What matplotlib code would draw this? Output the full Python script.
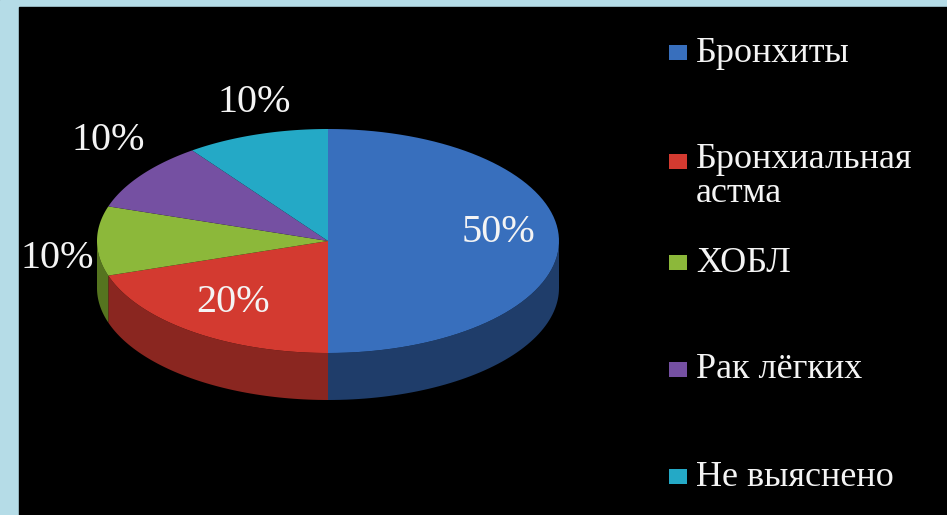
import numpy as np
import matplotlib
matplotlib.use('Agg')
import matplotlib.pyplot as plt
from matplotlib.patches import Polygon, Rectangle

plt.rcParams['font.family'] = 'serif'
plt.rcParams['font.serif'] = ['Liberation Serif', 'DejaVu Serif']

# данные диаграммы
labels = ['Бронхиты', 'Бронхиальная\nастма', 'ХОБЛ', 'Рак лёгких', 'Не выяснено']
values = [50, 20, 10, 10, 10]
pct_labels = ['50%', '20%', '10%', '10%', '10%']

top_colors = ['#386fbd', '#d33a30', '#8cb83a', '#7550a2', '#24a9c6']
side_colors = ['#1f3d6a', '#8a2620', '#55741f', '#4a3068', '#186b80']

W, H = 947, 515
fig = plt.figure(figsize=(W / 100, H / 100), dpi=100)
ax = fig.add_axes([0, 0, 1, 1])
ax.set_xlim(0, W)
ax.set_ylim(H, 0)
ax.axis('off')

# фон: голубая рамка слева и сверху, чёрное поле
ax.add_patch(Rectangle((0, 0), W, H, color='#b5dce7', zorder=0))
ax.add_patch(Rectangle((19, 7), W - 19, H - 7, color='black', zorder=0))

cx, cy = 328, 241     # центр верхнего эллипса
rx, ry = 231, 112     # полуоси
depth = 47            # толщина "3D" диска


def pt(a, dy=0):
    a = np.radians(a)
    return cx + rx * np.cos(a), cy - ry * np.sin(a) + dy


# углы секторов: от 90 градусов по часовой стрелке
total = float(sum(values))
angles = [90]
for v in values:
    angles.append(angles[-1] - 360 * v / total)

# боковые стенки (видимая нижняя половина эллипса)
for i in range(len(values)):
    a0, a1 = angles[i], angles[i + 1]
    lo, hi = min(a0, a1), max(a0, a1)
    for shift in (0, -360, 360):
        s_lo, s_hi = max(lo + shift, -180), min(hi + shift, 0)
        if s_hi > s_lo:
            t = np.linspace(s_lo, s_hi, 60)
            upper = [pt(a) for a in t]
            lower = [pt(a, depth) for a in t[::-1]]
            ax.add_patch(Polygon(upper + lower, closed=True,
                                 facecolor=side_colors[i], edgecolor='none', zorder=1))

# верхние грани секторов
for i in range(len(values)):
    t = np.linspace(angles[i], angles[i + 1], 80)
    verts = [(cx, cy)] + [pt(a) for a in t]
    ax.add_patch(Polygon(verts, closed=True, facecolor=top_colors[i],
                         edgecolor='none', zorder=2))

# подписи процентов
pct_pos = [(498, 232), (233, 303), (57, 258), (108, 141), (254, 103)]
for (x, y), s in zip(pct_pos, pct_labels):
    ax.text(x, y, s, color='#f4f4f4', fontsize=29, ha='center', va='center', zorder=3)

# легенда
leg_y = [53, 162, 263, 370, 477]
for i, (lab, y) in enumerate(zip(labels, leg_y)):
    ax.add_patch(Rectangle((669, y - 8), 18, 15, facecolor=top_colors[i],
                           edgecolor='none', zorder=3))
    if '\n' in lab:
        ax.text(696, y - 19, lab, color='#f4f4f4', fontsize=26, ha='left', va='top',
                linespacing=1.05, zorder=3)
    else:
        ax.text(696, y, lab, color='#f4f4f4', fontsize=26, ha='left', va='center', zorder=3)

fig.savefig('out.png', dpi=100, facecolor='black')
